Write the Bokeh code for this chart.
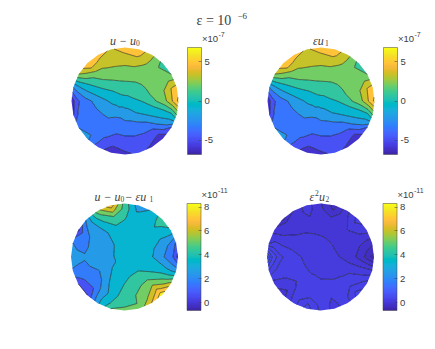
from bokeh.plotting import figure
from bokeh.models import ColorBar, LinearColorMapper, FixedTicker, Label, Range1d
from bokeh.embed import file_html
from bokeh.resources import INLINE
import numpy as np

radii = [0.0, 0.3, 0.55, 0.75, 0.9, 1.0]
angles_deg = list(range(0, 360, 15))

# each row: one angle, values at r = 1, .9, .75, .55, .3
u_minus_u0 = [
 [5.8,4.3,2.4,1.2,0.0],[4.6,4.2,2.7,1.74,.38],[1.37,1.9,2.2,1.8,.65],[.9,1.3,2.1,1.8,.85],
 [3.2,3.0,2.6,2.0,.9],[5.0,4.5,3.15,2.2,1.0],[4.9,4.15,3.15,2.2,1.05],[3.9,3.6,3.1,2.2,.9],
 [4.6,3.9,2.95,1.85,.65],[5.4,4.4,2.3,1.3,.2],[2.7,1.8,.75,.2,-.3],[-2.6,-2.0,-1.37,-1.0,-.6],
 [-6.6,-4.5,-3.3,-2.4,-1.3],[-5.6,-4.0,-3.5,-2.74,-1.6],[-2.75,-3.0,-3.1,-3.0,-2.0],[-2.4,-2.74,-3.4,-3.2,-2.1],
 [-4.9,-4.4,-4.0,-3.7,-2.5],[-6.2,-5.7,-4.4,-3.9,-2.6],[-5.9,-5.2,-4.5,-3.7,-2.4],[-5.0,-4.9,-4.4,-3.6,-2.3],
 [-5.8,-5.2,-4.4,-3.3,-1.9],[-6.3,-5.7,-4.2,-2.7,-1.3],[-4.3,-2.8,-1.9,-1.37,-1.0],[1.37,0.0,-.3,-.4,-.55],
]
u_minus_u0_center = -0.55
eps_u1 = u_minus_u0
eps_u1_center = u_minus_u0_center

u_minus_u0_eps_u1 = [
 [0.0,1.2,2.0,2.9,3.4],[1.0,1.8,2.4,3.0,3.4],[3.7,3.4,3.1,3.3,3.4],[4.4,4.1,3.75,3.4,3.4],
 [3.0,3.2,3.4,3.4,3.4],[2.5,2.85,3.4,3.4,3.4],[4.4,4.4,3.95,3.6,3.4],[7.1,6.0,4.4,3.6,3.3],
 [5.4,4.6,3.8,3.05,3.05],[2.3,2.7,2.6,2.7,2.9],[0.0,1.2,2.05,2.5,2.8],[2.05,1.85,1.95,2.35,2.75],
 [2.5,2.3,2.1,2.35,2.7],[1.95,1.9,1.95,2.2,2.65],[.25,.95,1.6,2.0,2.7],[.2,.7,1.5,2.25,3.05],
 [2.75,2.85,2.55,3.0,3.3],[4.75,4.0,3.6,3.4,3.4],[5.0,4.6,4.3,3.95,3.45],[4.9,4.75,4.7,4.4,3.6],
 [6.5,5.75,5.25,4.5,3.65],[8.1,7.0,5.7,4.4,3.65],[6.0,5.1,4.4,3.85,3.5],[2.6,2.7,3.1,3.3,3.4],
]
u_minus_u0_eps_u1_center = 3.4

# in contour steps of 0.13
eps2_u2_steps = [
 [-3.4,-2.7,-1.45,-.5,.15],[-1.7,-1.55,-1.0,-.55,.03],[.5,.1,-.2,-.45,0.0],[1.4,1.0,.1,-.4,.03],
 [-.3,-.45,-.5,-.45,.05],[-2.5,-2.0,-.85,-.4,.15],[-.9,-.75,-.65,-.3,.2],[.5,.35,-.1,-.2,.3],
 [-.9,-.5,-.25,-.06,.4],[-2.3,-.9,-.4,.1,.5],[-.3,-.2,.1,.47,.62],[.9,1.4,1.1,.97,.75],
 [6.5,4.0,2.2,1.5,.85],[2.8,2.2,1.6,1.45,.93],[.35,.8,1.05,1.3,.96],[-.5,-.1,.6,1.3,.95],
 [1.5,1.7,1.55,1.35,.9],[3.5,3.0,1.7,1.35,.9],[1.8,1.65,1.45,1.25,.8],[.6,.75,1.1,1.2,.78],
 [1.5,1.6,1.4,1.1,.72],[3.5,2.9,1.8,1.05,.62],[2.5,1.9,1.35,.85,.45],[.2,.15,.1,.15,.3],
]
eps2_u2_center_steps = 0.45
eps2_step = 0.13

levels_top = [-6.85,-5.48,-4.11,-2.74,-1.37,0.0,1.37,2.74,4.11,5.48,6.85]
levels_bottom_left = [-.65,.25,1.15,2.05,2.95,3.85,4.75,5.65,6.55,7.45,8.35]
levels_bottom_right = [-.65,-.52,-.39,-.26,-.13,0.0,.13,.26,.39,.52,.65,.78,.91]
ticks_top = [-5,0,5]
ticks_bottom = [0,2,4,6,8]
range_top = (-6.85,6.85)
range_bottom = (-.65,8.3)

PARULA = np.array([
[.2422,.1504,.6603],[.2504,.1650,.7076],[.2578,.1818,.7511],[.2647,.1978,.7952],[.2706,.2147,.8364],[.2751,.2342,.8710],
[.2783,.2559,.8991],[.2803,.2782,.9221],[.2813,.3006,.9414],[.2810,.3228,.9579],[.2795,.3447,.9717],[.2760,.3667,.9829],
[.2699,.3892,.9906],[.2602,.4123,.9952],[.2440,.4358,.9988],[.2206,.4603,.9973],[.1963,.4847,.9892],[.1834,.5074,.9798],
[.1786,.5289,.9682],[.1764,.5499,.9520],[.1687,.5703,.9359],[.1540,.5902,.9218],[.1460,.6091,.9079],[.1380,.6276,.8973],
[.1248,.6459,.8883],[.1113,.6635,.8763],[.0952,.6798,.8598],[.0689,.6948,.8394],[.0297,.7082,.8163],[.0036,.7203,.7917],
[.0067,.7312,.7660],[.0433,.7411,.7394],[.0964,.7500,.7120],[.1408,.7584,.6842],[.1717,.7670,.6554],[.1938,.7758,.6251],
[.2161,.7843,.5923],[.2470,.7918,.5567],[.2906,.7973,.5188],[.3406,.8008,.4789],[.3909,.8029,.4354],[.4456,.8024,.3909],
[.5044,.7993,.3480],[.5616,.7942,.3045],[.6174,.7876,.2612],[.6720,.7793,.2227],[.7242,.7698,.1910],[.7738,.7598,.1646],
[.8203,.7498,.1535],[.8634,.7406,.1596],[.9035,.7330,.1774],[.9393,.7288,.2100],[.9728,.7298,.2394],[.9956,.7434,.2371],
[.9970,.7659,.2199],[.9952,.7893,.2028],[.9892,.8136,.1885],[.9786,.8386,.1766],[.9676,.8639,.1643],[.9610,.8890,.1537],
[.9597,.9135,.1423],[.9628,.9373,.1265],[.9691,.9606,.1064],[.9769,.9839,.0805]])
HEX = ["#%02x%02x%02x" % tuple(int(round(c*255)) for c in rgb) for rgb in PARULA]
TEXT = "#404040"
SERIF = "Liberation Serif"
W, H = 430, 345

p = figure(width=W, height=H, x_range=Range1d(0, W), y_range=Range1d(H, 0), output_backend="svg",
           toolbar_location=None, min_border_left=0, min_border_right=0, min_border_top=0, min_border_bottom=0,
           outline_line_color=None)
p.axis.visible = False
p.grid.visible = False

def band_colors(levels, lim):
    out = []
    for a, b in zip(levels[:-1], levels[1:]):
        t = ((a+b)/2 - lim[0])/(lim[1]-lim[0])
        out.append(HEX[int(np.clip(t*63.999, 0, 63))])
    return out

def label(x, y, text, size=10, style="normal", font=SERIF, color=TEXT):
    p.add_layout(Label(x=x, y=y, text=text, text_font=font, text_font_size=f"{size}px", text_font_style=style,
                       text_color=color, text_align="left", text_baseline="alphabetic"))

def panel(rows, center, levels, lim, ticks, exp, pieces, cx, cy, scale=1.0, R=53.5):
    col = np.array(rows).T[::-1] * scale               # r = .3 ... 1 by angle
    z = np.vstack([np.full(col.shape[1], center * scale), col])
    z = np.hstack([z, z[:, :1]])
    r = np.array(radii)
    th = np.deg2rad(np.array(angles_deg + [360.0]))
    x = cx + R*np.outer(r, np.cos(th))
    y = cy - R*np.outer(r, np.sin(th))
    p.contour(x, y, z, levels, fill_color=band_colors(levels, lim), line_color="#000000", line_width=0.5)
    cb = ColorBar(color_mapper=LinearColorMapper(palette=HEX, low=lim[0], high=lim[1]),
                  ticker=FixedTicker(ticks=ticks), width=14, height=107, location=(cx+R+9, H-(cy+R)), margin=0, padding=0,
                  major_label_text_font="Liberation Sans", major_label_text_font_size="9.5px",
                  major_label_text_color=TEXT, major_tick_in=3, major_tick_out=0, major_tick_line_color=TEXT,
                  major_tick_line_width=0.5, minor_tick_line_color=None, bar_line_color=TEXT, bar_line_width=0.5,
                  label_standoff=3, major_label_overrides={t: str(t) for t in ticks})
    p.add_layout(cb)
    label(cx+77, cy-R-9, "×10", size=9.5, font="Liberation Sans")
    label(cx+93.5, cy-R-13, exp, size=7, font="Liberation Sans")
    for text, dx, dy, size, style in pieces:
        label(cx+dx, cy-R-7+dy, text, size=size, style=style)

label(196, 20, "ε = 10", size=14)
label(237, 15, "−6", size=9)

panel(u_minus_u0, u_minus_u0_center, levels_top, range_top, ticks_top, "-7",
      [("u − u", -15, 0, 12, "italic"), ("0", 11, 2, 7.5, "normal")], 124.5, 100.5)
panel(eps_u1, eps_u1_center, levels_top, range_top, ticks_top, "-7",
      [("εu", -8, 0, 12, "italic"), ("1", 4, 2, 7.5, "normal")], 320.5, 100.5)
panel(u_minus_u0_eps_u1, u_minus_u0_eps_u1_center, levels_bottom_left, range_bottom, ticks_bottom, "-11",
      [("u − u", -30, 0, 12, "italic"), ("0", -4, 2, 7.5, "normal"), (" − εu", 0, 0, 12, "italic"), ("1", 25, 2, 7.5, "normal")],
      124.0, 256.5)
panel(eps2_u2_steps, eps2_u2_center_steps, levels_bottom_right, range_bottom, ticks_bottom, "-11",
      [("ε", -11, 0, 12, "italic"), ("2", -5.5, -4, 7.5, "normal"), ("u", -1.5, 0, 12, "italic"), ("2", 5, 2, 7.5, "normal")],
      320.0, 256.5, scale=eps2_step)

open("out.html", "w").write(file_html(p, INLINE))
